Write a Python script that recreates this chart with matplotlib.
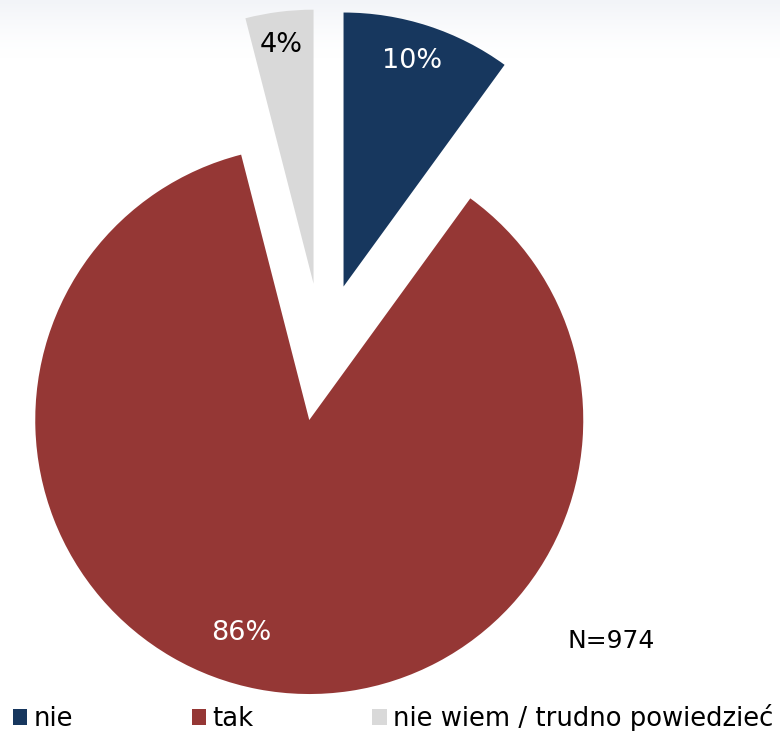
import numpy as np
import matplotlib
matplotlib.use("Agg")
import matplotlib.pyplot as plt
from matplotlib.colors import LinearSegmentedColormap

# data
CATEGORIES = ["nie", "tak", "nie wiem / trudno powiedzieć"]
VALUES = [10, 86, 4]
PCT_LABELS = ["10%", "86%", "4%"]
N_TEXT = "N=974"

COLORS = ["#17375E", "#953735", "#D9D9D9"]
LABEL_COLORS = ["white", "white", "black"]
# label placement: distance from wedge apex (radius units) and angle shift (deg)
LABEL_DIST = [0.86, 0.815, 0.88]
LABEL_SHIFT = [1.0, -6.8, 0.5]

W, H, DPI = 780, 731, 100
R_PX = 274.0          # pie radius in pixels
CX, CY = 322.2, 352.2  # pie centre in pixels (from top left)

fig = plt.figure(figsize=(W / DPI, H / DPI), dpi=DPI)
fig.patch.set_facecolor("white")

# faint banner gradient at the top
bg = fig.add_axes([0, 1 - 60 / H, 1, 60 / H], zorder=-1)
grad = np.linspace(1, 0, 60).reshape(-1, 1) ** 1.5
cmap = LinearSegmentedColormap.from_list("bg", ["#ffffff", "#f2f4f8"])
bg.imshow(grad, aspect="auto", cmap=cmap, extent=(0, 1, 0, 1), vmin=0, vmax=1)
bg.axis("off")

ax = fig.add_axes([0, 0, 1, 1])
wedges, _ = ax.pie(VALUES, colors=COLORS, startangle=90, counterclock=False,
                   explode=[0.252] * len(VALUES), radius=1.0,
                   wedgeprops=dict(linewidth=0))
ax.set_xlim(-CX / R_PX, (W - CX) / R_PX)
ax.set_ylim(-(H - CY) / R_PX, CY / R_PX)
ax.set_aspect("auto")
ax.axis("off")

# percentage labels inside wedges
for w, txt, col, d, sh in zip(wedges, PCT_LABELS, LABEL_COLORS, LABEL_DIST, LABEL_SHIFT):
    ang = np.deg2rad((w.theta1 + w.theta2) / 2 + sh)
    x = w.center[0] + d * np.cos(ang)
    y = w.center[1] + d * np.sin(ang)
    ax.text(x, y, txt, color=col, fontsize=19.5, ha="center", va="center")

fig.text(611 / W, 1 - 641 / H, N_TEXT, fontsize=18, ha="center", va="center",
         color="black")

fig.legend(wedges, CATEGORIES, loc="center left",
           bbox_to_anchor=(12.7 / W, 1 - 718 / H), ncol=3, frameon=False,
           fontsize=18.6, handlelength=0.55, handleheight=0.55,
           handletextpad=0.25, columnspacing=4.6, borderaxespad=0,
           borderpad=0)

fig.savefig("out.png", dpi=DPI, facecolor="white")
